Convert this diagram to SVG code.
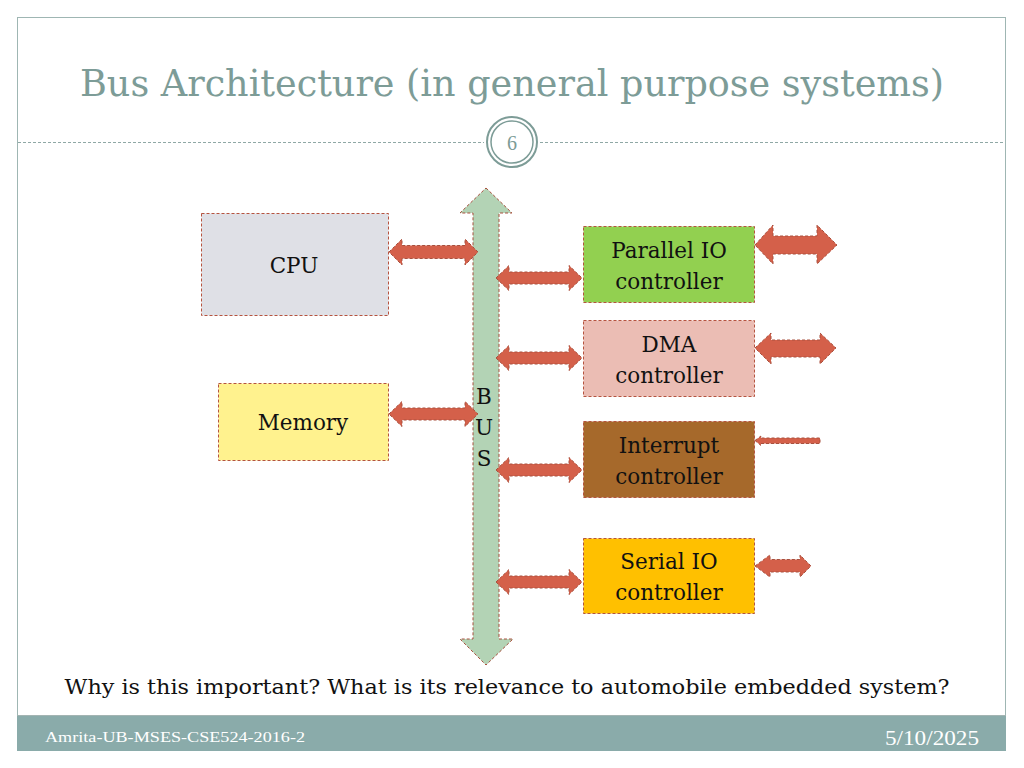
<svg xmlns="http://www.w3.org/2000/svg" width="1024" height="768" viewBox="0 0 1024 768">
<defs>
<style>
.box{stroke:#b5533f;stroke-width:1;stroke-dasharray:3 2}
.arr{fill:#d4604a;stroke:#a8503e;stroke-width:1;stroke-dasharray:3 2}
.lbl{font-family:"DejaVu Serif","Liberation Serif",serif;font-size:21.5px;fill:#111;text-anchor:middle}
.title{font-family:"DejaVu Serif","Liberation Serif",serif;font-size:38px;fill:#7d9c97;text-anchor:middle}
.foot{font-family:"Liberation Serif","DejaVu Serif",serif;fill:#ffffff}
</style>
</defs>
<rect x="0" y="0" width="1024" height="768" fill="#ffffff"/>
<rect x="17.5" y="17.5" width="988" height="733" fill="#ffffff" stroke="#9fb6b3" stroke-width="1"/>
<text class="title" x="512" y="96" textLength="864" lengthAdjust="spacingAndGlyphs">Bus Architecture (in general purpose systems)</text>
<g stroke="#8fa8a5" stroke-width="1" stroke-dasharray="3 2">
<line x1="18" y1="142.5" x2="484" y2="142.5"/>
<line x1="540" y1="142.5" x2="1005" y2="142.5"/>
</g>
<circle cx="512" cy="142" r="25" fill="#fff" stroke="#7d9c97" stroke-width="2"/>
<circle cx="512" cy="142" r="21" fill="#fff" stroke="#7d9c97" stroke-width="1.5"/>
<text x="512" y="150" font-family="Liberation Serif,serif" font-size="20" fill="#7d9c97" text-anchor="middle">6</text>

<g id="connectors">
<path id="bus" d="M486,188 L512,213 L499,213 L499,639 L513,639 L486,665 L460,639 L473,639 L473,213 L460,213 Z" fill="#b3d3b5" stroke="#a8503e" stroke-width="1" stroke-dasharray="3 2"/>
<path class="arr" d="M389,252 L402,239 L402,245.5 L465,245.5 L465,239 L478,252 L465,265 L465,258.5 L402,258.5 L402,265 Z"/>
<path class="arr" d="M389,414 L402,401.5 L402,408 L465,408 L465,401.5 L478,414 L465,426.5 L465,420 L402,420 L402,426.5 Z"/>
<path class="arr" d="M496,278 L509,265.5 L509,272 L569,272 L569,265.5 L582,278 L569,290.5 L569,284 L509,284 L509,290.5 Z"/>
<path class="arr" d="M496,358 L509,345.5 L509,352 L569,352 L569,345.5 L582,358 L569,370.5 L569,364 L509,364 L509,370.5 Z"/>
<path class="arr" d="M496,470 L509,457.5 L509,464 L569,464 L569,457.5 L582,470 L569,482.5 L569,476 L509,476 L509,482.5 Z"/>
<path class="arr" d="M496,582 L509,569.5 L509,576 L569,576 L569,569.5 L582,582 L569,594.5 L569,588 L509,588 L509,594.5 Z"/>
<path class="arr" d="M755,245 L773,225 L773,236 L817,236 L817,225 L837,245 L817,264 L817,254 L773,254 L773,264 Z"/>
<path class="arr" d="M755,348 L771,333 L771,340 L820,340 L820,333 L836,348 L820,364 L820,357 L771,357 L771,364 Z"/>
<path class="arr" d="M755,440.5 L761,436 L761,438 L820,438 L820,443.5 L761,443.5 L761,445.5 Z"/>
<path class="arr" d="M755,566 L770,555 L770,559.5 L800,559.5 L800,555 L811,566 L800,577 L800,572 L770,572 L770,577 Z"/>
</g>

<g id="cpu">
<rect class="box" x="201.5" y="213.5" width="187" height="102" fill="#dfe0e6"/>
<text class="lbl" x="294" y="273">CPU</text>
</g>
<g id="memory">
<rect class="box" x="218.5" y="383.5" width="170" height="77" fill="#fff28e"/>
<text class="lbl" x="303" y="430">Memory</text>
</g>
<g id="bus-label">
<text class="lbl" x="484" y="404">B</text>
<text class="lbl" x="484" y="435">U</text>
<text class="lbl" x="484" y="466">S</text>
</g>
<g id="parallel">
<rect class="box" x="583.5" y="226.5" width="171" height="76" fill="#92d050"/>
<text class="lbl" x="669" y="258">Parallel IO</text>
<text class="lbl" x="669" y="289">controller</text>
</g>
<g id="dma">
<rect class="box" x="583.5" y="320.5" width="171" height="76" fill="#ebbdb4"/>
<text class="lbl" x="669" y="352">DMA</text>
<text class="lbl" x="669" y="383">controller</text>
</g>
<g id="interrupt">
<rect class="box" x="583.5" y="421.5" width="171" height="76" fill="#a6692b"/>
<text class="lbl" x="669" y="453">Interrupt</text>
<text class="lbl" x="669" y="484">controller</text>
</g>
<g id="serial">
<rect class="box" x="583.5" y="538.5" width="171" height="75" fill="#ffc000"/>
<text class="lbl" x="669" y="569">Serial IO</text>
<text class="lbl" x="669" y="600">controller</text>
</g>

<text x="507" y="694" font-family="DejaVu Serif,Liberation Serif,serif" font-size="21" fill="#111" text-anchor="middle" textLength="885" lengthAdjust="spacingAndGlyphs">Why is this important? What is its relevance to automobile embedded system?</text>

<rect x="17" y="715" width="989" height="36" fill="#8aabaa"/>
<line x1="17" y1="715.5" x2="1006" y2="715.5" stroke="#a3b4b2" stroke-width="1"/>
<text class="foot" x="45" y="742" font-size="15" textLength="260" lengthAdjust="spacingAndGlyphs">Amrita-UB-MSES-CSE524-2016-2</text>
<text class="foot" x="979" y="745" font-size="20" text-anchor="end" textLength="94" lengthAdjust="spacingAndGlyphs">5/10/2025</text>
</svg>
